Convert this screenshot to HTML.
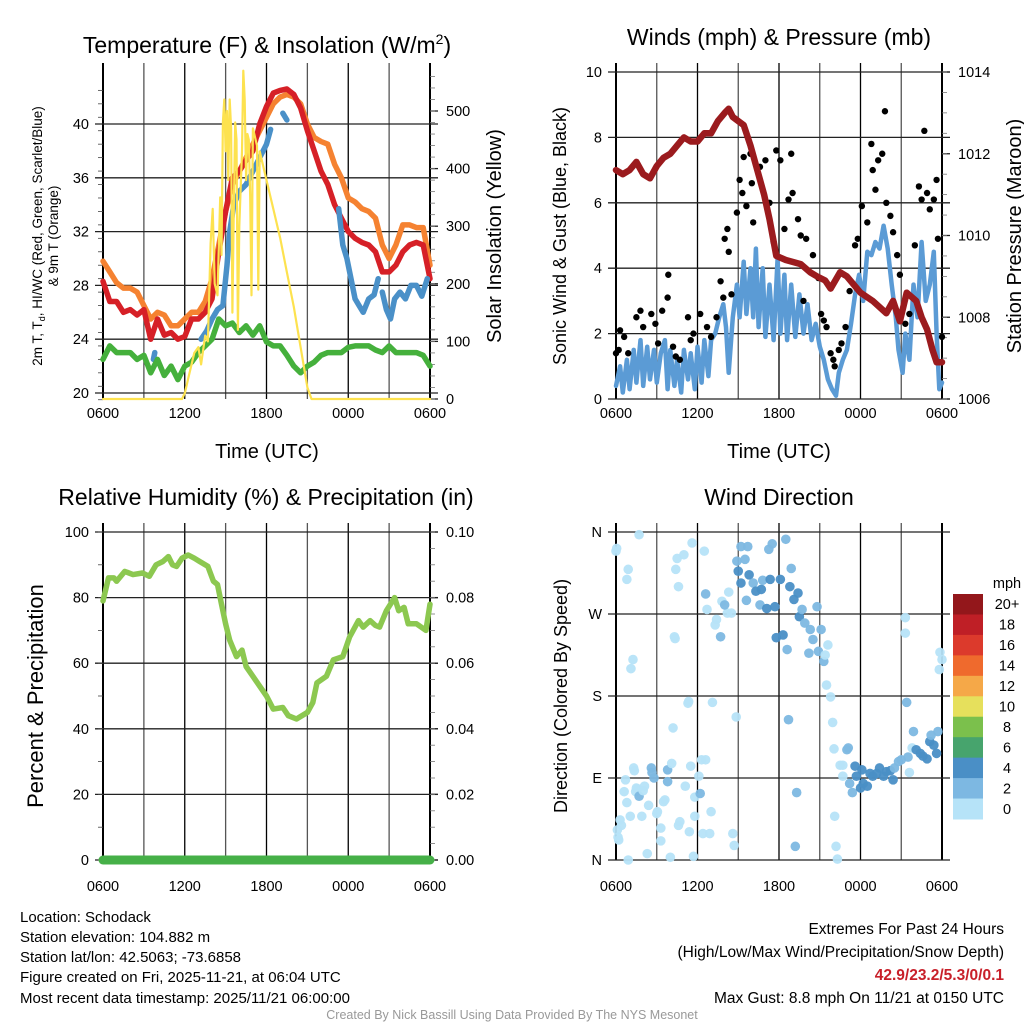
<!DOCTYPE html>
<html><head><meta charset="utf-8"><style>
html,body{margin:0;padding:0;background:#fff;}
svg{display:block;font-family:"Liberation Sans",Arial,sans-serif;}
</style></head><body>
<svg id="fig" width="1024" height="1024" viewBox="0 0 1024 1024">
<text x="267" y="53" font-size="23" text-anchor="middle">Temperature (F) &amp; Insolation (W/m<tspan font-size="14" dy="-9">2</tspan><tspan dy="9">)</tspan></text>
<text x="779" y="45" font-size="23" text-anchor="middle">Winds (mph) &amp; Pressure (mb)</text>
<text x="266" y="505" font-size="23" text-anchor="middle">Relative Humidity (%) &amp; Precipitation (in)</text>
<text x="779" y="505" font-size="23" text-anchor="middle">Wind Direction</text>

<text transform="translate(42,236) rotate(-90)" font-size="13.5" text-anchor="middle">2m T, T<tspan font-size="9" dy="3">d</tspan><tspan dy="-3">, HI/WC (Red, Green, Scarlet/Blue)</tspan></text>
<text transform="translate(58,236) rotate(-90)" font-size="13.5" text-anchor="middle">&amp; 9m T (Orange)</text>
<text transform="translate(501,236) rotate(-90)" font-size="20" text-anchor="middle">Solar Insolation (Yellow)</text>
<text x="267" y="458" font-size="20" text-anchor="middle">Time (UTC)</text>

<text transform="translate(566,236) rotate(-90)" font-size="18" text-anchor="middle">Sonic Wind &amp; Gust (Blue, Black)</text>
<text transform="translate(1021,236) rotate(-90)" font-size="20" text-anchor="middle">Station Pressure (Maroon)</text>
<text x="779" y="458" font-size="20" text-anchor="middle">Time (UTC)</text>

<text transform="translate(43,696) rotate(-90)" font-size="22" text-anchor="middle">Percent &amp; Precipitation</text>
<text transform="translate(567,696) rotate(-90)" font-size="18" text-anchor="middle">Direction (Colored By Speed)</text>

<g font-size="15">
<text x="20" y="922">Location: Schodack</text>
<text x="20" y="942">Station elevation: 104.882 m</text>
<text x="20" y="962">Station lat/lon: 42.5063; -73.6858</text>
<text x="20" y="982">Figure created on Fri, 2025-11-21, at 06:04 UTC</text>
<text x="20" y="1003">Most recent data timestamp: 2025/11/21 06:00:00</text>
</g>
<g font-size="15.5" text-anchor="end">
<text x="1004" y="934">Extremes For Past 24 Hours</text>
<text x="1004" y="957">(High/Low/Max Wind/Precipitation/Snow Depth)</text>
<text x="1004" y="980" fill="#c8202a" font-weight="bold">42.9/23.2/5.3/0/0.1</text>
<text x="1004" y="1003">Max Gust: 8.8 mph On 11/21 at 0150 UTC</text>
</g>
<text x="512" y="1019" font-size="12.5" fill="#999" text-anchor="middle">Created By Nick Bassill Using Data Provided By The NYS Mesonet</text>
<g id="plots"></g>
</svg>
<script>
// ---- data ----
const xTickLabels = ["0600","1200","1800","0000","0600"];
const tempTicks = [20,24,28,32,36,40];
const insolTicks = [0,100,200,300,400,500];
const windTicks = [0,2,4,6,8,10];
const presTicks = [1006,1008,1010,1012,1014];
const rhTicks = [0,20,40,60,80,100];
const precipTicks = ["0.00","0.02","0.04","0.06","0.08","0.10"];
const dirLabels = ["N","E","S","W","N"];
const speedBins = ["0","2","4","6","8","10","12","14","16","18","20+"];
const speedColors = ["#b6e3f8","#7db8e2","#4a8fc6","#47a46d","#7bc04c","#e6e05c","#f5a848","#ef6a2d","#dc3a2c","#bf1f26","#93171b"];

const redT = [[0,28.3],[0.5,26.8],[1,26.8],[1.5,26],[2,26.2],[2.5,25.8],[3,26.2],[3.5,24],[4,25.5],[4.5,24.3],[5,24.5],[5.5,24],[6,24.2],[6.5,25.5],[7,25.5],[7.5,26],[8,27],[8.5,30.5],[9,33.5],[9.5,36],[10,36.5],[10.5,37.3],[11,38],[11.5,40],[12,41.3],[12.5,42.3],[13,42.5],[13.5,42.6],[14,42.2],[14.5,41.2],[15,39.5],[15.5,38],[16,36.5],[16.5,35.5],[17,34],[17.5,33],[18,32],[18.5,31.5],[19,31.2],[19.5,31],[20,30.5],[20.5,29],[21,29],[21.5,29.5],[22,30.5],[22.5,31],[23,31.2],[23.5,31],[24,28.5]];
const orangeT = [[0,29.8],[0.5,29],[1,28.2],[1.5,27.8],[2,27.8],[2.5,27.5],[3,26.5],[3.5,25.5],[4,26],[4.5,25.8],[5,25],[5.5,25],[6,25.5],[6.5,26],[7,26],[7.5,26.8],[8,28.5],[8.5,31],[9,33.5],[9.5,35.5],[10,36.5],[10.5,37.5],[11,38.5],[11.5,39.5],[12,40.5],[12.5,41.5],[13,42],[13.5,42.2],[14,42],[14.5,41.5],[15,40],[15.5,39],[16,38.7],[16.5,38.5],[17,37],[17.5,36],[18,34.5],[18.5,34.2],[19,33.7],[19.5,33.5],[20,33],[20.5,31],[21,30],[21.5,31],[22,32.5],[22.5,32.5],[23,32.3],[23.5,32.3],[24,29.5]];
const greenTd = [[0,22.5],[0.5,23.5],[1,23],[1.5,23],[2,23],[2.5,22.5],[3,22.8],[3.5,21.5],[4,22.5],[4.5,21.3],[5,22],[5.5,21],[6,22],[6.5,22.3],[7,23],[7.5,23.5],[8,24],[8.5,25.5],[9,25],[9.5,25.2],[10,24.5],[10.5,25],[11,24.3],[11.5,25],[12,23.8],[12.5,23.5],[13,23.5],[13.5,22.8],[14,22],[14.5,21.5],[15,22],[15.5,22.3],[16,22.8],[16.5,23],[17,23],[17.5,23],[18,23.4],[18.5,23.5],[19,23.5],[19.5,23.5],[20,23.2],[20.5,23],[21,23.5],[21.5,23],[22,23],[22.5,23],[23,23],[23.5,22.8],[24,22]];
const blueHI = [
 [[3.7,22.5],[3.8,23]],
 [[7.2,24],[7.6,24.6],[8.0,25.5],[8.4,26.2],[8.8,26.5],[9.1,29.5],[9.3,32],[9.6,34],[10,35],[10.5,35.5],[11,36.5],[11.5,37.5],[12,38.5],[12.3,39.6]],
 [[13.2,40.8],[13.5,40.3]],
 [[17.3,33.7],[17.6,31],[17.9,30],[18.2,28.5],[18.5,27],[18.8,26.5],[19.1,26],[19.5,27],[19.9,27.3],[20.2,28.5]],
 [[20.5,27.5],[20.8,26.2],[21.1,25.5],[21.4,27],[21.8,27.5],[22.2,27],[22.6,28],[23,28],[23.4,27.2],[23.8,28.5]]
];
const insolation = [[0,0],[5.8,0],[6,10],[6.3,40],[6.7,80],[7,90],[7.2,60],[7.5,110],[7.7,100],[7.9,270],[8.05,330],[8.2,200],[8.4,180],[8.6,350],[8.7,250],[8.8,480],[8.9,520],[9.0,430],[9.1,500],[9.2,380],[9.3,520],[9.4,470],[9.5,150],[9.6,330],[9.7,480],[9.8,450],[9.9,120],[10.0,300],[10.2,430],[10.3,570],[10.4,520],[10.5,380],[10.6,460],[10.7,450],[10.8,350],[10.9,180],[11.0,470],[11.3,440],[11.4,190],[11.5,430],[12,380],[12.5,330],[13,280],[13.5,220],[14,160],[14.5,90],[15,20],[15.3,0],[24,0]];

const windSpeed = [[0,0.4],[0.3,1],[0.5,0.2],[0.8,1.2],[1,0.3],[1.3,1.5],[1.5,0.5],[1.8,1.8],[2,0.4],[2.3,1.6],[2.5,0.6],[2.8,1.5],[3,0.5],[3.3,1.4],[3.6,1.8],[3.8,0.3],[4,1.5],[4.3,0.4],[4.5,1.2],[4.8,0.2],[5,1.5],[5.3,0.6],[5.5,1.4],[5.8,0.3],[6,1.6],[6.3,0.5],[6.5,1.8],[6.8,0.7],[7,1.8],[7.3,2],[7.6,2.5],[7.9,2.9],[8.1,2.2],[8.3,0.8],[8.6,2.5],[8.9,3.5],[9.1,2.5],[9.4,4.2],[9.6,2.6],[9.9,4],[10.1,2.5],[10.3,4.6],[10.5,2.2],[10.8,4],[11,1.9],[11.3,3.5],[11.6,1.8],[11.9,4.3],[12.1,2],[12.4,3.8],[12.6,1.8],[12.9,3.5],[13.2,1.9],[13.5,3.2],[13.8,2],[14.1,2.9],[14.4,1.8],[14.7,2.3],[15,1.6],[15.3,1.2],[15.6,0.6],[15.9,0.3],[16.2,0.1],[16.4,0.8],[16.7,1.2],[17,1.5],[17.3,2.3],[17.6,3.2],[17.9,3.8],[18.2,3],[18.5,4.5],[18.8,4.4],[19.1,4.8],[19.4,4.6],[19.7,5.3],[20,4.6],[20.3,3.5],[20.6,2.5],[20.8,1.5],[21.1,0.8],[21.3,2],[21.6,1.2],[21.9,3.5],[22.2,2.5],[22.5,4.8],[22.8,3],[23.1,3.5],[23.4,4.5],[23.6,2],[23.8,0.3],[24,0.5]];
const gusts = [[0,1.4],[0.2,1.5],[0.3,2.1],[0.6,1.9],[0.9,1.4],[1.5,2.5],[1.8,2.7],[2.0,2.2],[2.6,2.6],[2.9,2.3],[3.1,1.7],[3.4,2.7],[3.8,3.1],[3.85,3.8],[4.2,1.6],[4.4,1.3],[4.7,1.2],[5.3,2.5],[5.5,1.8],[5.7,2.0],[6.2,2.6],[6.7,2.2],[7.0,1.9],[7.4,2.5],[7.7,3.6],[7.9,3.1],[8.0,4.9],[8.2,5.2],[8.3,4.5],[8.5,3.2],[8.9,5.7],[9.1,6.7],[9.3,6.3],[9.4,7.4],[9.6,5.9],[9.9,7.5],[10,6.6],[10.1,5.4],[10.6,7.1],[11,7.3],[11.3,6.0],[11.6,4.8],[11.8,7.6],[12.1,7.3],[12.4,5.2],[12.7,6.1],[12.9,7.5],[13,6.3],[13.4,5.5],[13.6,5.0],[13.8,3.0],[14.0,4.9],[14.5,4.4],[14.9,3.7],[15.1,2.6],[15.3,2.4],[15.5,2.2],[15.8,1.4],[16.0,1.2],[16.1,1.0],[16.4,1.5],[16.6,1.7],[16.9,2.2],[17.2,3.3],[17.6,4.7],[17.8,4.9],[18.1,5.9],[18.5,5.4],[18.8,7.8],[18.9,7.0],[19.1,6.4],[19.3,7.3],[19.6,7.5],[19.8,8.8],[19.9,6.0],[20.2,5.6],[20.4,5.1],[20.7,4.4],[20.9,3.8],[21.3,2.3],[21.6,2.6],[22.0,4.7],[22.3,6.5],[22.5,6.1],[22.7,8.2],[22.9,6.3],[23.1,5.8],[23.4,6.1],[23.6,6.7],[23.7,4.9],[24,1.9]];
const pressure = [[0,1011.6],[0.5,1011.5],[1,1011.6],[1.5,1011.8],[2,1011.5],[2.5,1011.4],[3,1011.7],[3.5,1011.9],[4,1012.0],[4.5,1012.2],[5,1012.4],[5.5,1012.3],[6,1012.3],[6.5,1012.5],[7,1012.5],[7.5,1012.8],[8,1013.0],[8.3,1013.1],[8.6,1012.9],[9,1012.8],[9.4,1012.7],[9.9,1012.2],[10.4,1011.6],[10.9,1011.0],[11.3,1010.4],[11.8,1009.5],[12.5,1009.4],[13.6,1009.3],[14.3,1009.1],[14.8,1009.0],[15.4,1008.9],[15.8,1008.7],[16.5,1009.1],[17,1009.0],[17.5,1008.8],[18,1008.6],[18.9,1008.4],[19.9,1008.1],[20.4,1008.4],[20.9,1007.9],[21.4,1008.6],[22.1,1008.4],[22.5,1008.0],[22.9,1007.7],[23.3,1007.2],[23.6,1006.9],[24,1006.9]];

const rh = [[0,79],[0.4,86],[0.8,86],[1,85],[1.6,88],[2.2,87],[2.9,87.5],[3.4,86.5],[3.9,90],[4.4,91],[4.8,92.5],[5.1,90],[5.4,89.5],[5.8,92],[6.25,93],[6.7,92],[7.1,91],[7.7,89.5],[8.1,85],[8.4,84],[8.7,78],[9.0,72],[9.3,67],[9.8,62],[10.2,64],[10.5,59],[11,56],[11.5,53],[12,50],[12.5,46],[13.2,46.5],[13.6,44],[14.2,43],[15,45],[15.4,48],[15.7,54],[16.4,56],[16.9,61],[17.6,62],[18.1,68],[18.75,73],[19.1,71],[19.6,73],[20.0,71.5],[20.3,71],[20.8,76],[21.1,78],[21.4,80],[21.7,76],[22.1,77],[22.4,72],[23,72],[23.7,70],[24,78]];
const precip = [[0,0],[24,0]];

// direction points: [hour, degrees (0=N bottom), speed mph]
const dirPts = [[0,339,1],[0.05,342,1],[0.9,319,1],[0.8,308,1],[1.7,357,1],[1.25,220,1],[1.1,210,1],[0.7,88,1],[0.6,75,1],[0.8,63,1],[1.05,48,1],[0.3,44,1],[0.4,38,1],[0.1,33,1],[0.2,22,1],[0.15,25,1],[0.9,0,1],[1.3,101,1],[1.35,98,1],[1.5,79,1],[1.45,75,1],[1.6,78,1],[1.7,70,3],[1.9,48,1],[2.1,81,1],[2.0,76,1],[2.4,60,1],[2.3,7,1],[2.6,101,3],[2.65,96,3],[2.8,90,3],[3.0,51,1],[3.05,53,1],[3.3,35,1],[3.3,21,1],[3.6,66,1],[3.5,64,1],[3.8,99,3],[3.8,86,3],[4.0,3,1],[4.1,106,1],[4.2,145,1],[4.3,245,1],[4.35,243,1],[4.4,319,1],[4.6,300,1],[4.5,331,1],[5.0,335,1],[4.7,42,1],[4.6,38,1],[5.1,81,1],[5.4,31,1],[5.5,103,1],[5.6,348,1],[5.8,69,1],[5.8,48,1],[5.3,172,1],[5.35,174,1],[5.7,4,1],[6.2,73,3],[6.3,110,1],[6.1,92,1],[6.4,29,1],[6.5,339,1],[6.6,292,3],[6.7,275,1],[6.9,29,1],[7.0,53,1],[7.1,173,1],[6.6,110,1],[7.4,264,1],[7.3,258,1],[7.7,245,3],[7.8,284,1],[8.2,271,1],[8.5,271,1],[8.0,280,2],[8.3,294,1],[8.6,29,1],[8.7,16,1],[8.85,157,1],[8.9,328,3],[9.0,317,4],[9.2,304,4],[9.2,344,2],[9.5,330,2],[9.6,285,3],[9.7,344,2],[9.8,313,4],[10.1,304,3],[10.3,295,4],[10.6,280,3],[10.7,297,4],[10.8,307,2],[11.1,276,4],[11.25,341,2],[11.35,308,4],[11.5,347,2],[11.7,278,4],[11.8,244,4],[12.1,308,4],[12.3,247,4],[12.5,352,2],[12.6,231,3],[12.7,154,3],[12.8,300,4],[12.9,320,2],[13.1,286,4],[13.3,74,2],[13.2,15,3],[13.4,293,4],[13.5,267,4],[13.7,275,2],[13.9,260,2],[14.2,227,3],[14.3,253,3],[14.5,242,2],[14.8,278,3],[14.9,229,3],[15.1,253,2],[15.3,218,2],[15.4,225,1],[15.6,236,1],[15.5,192,1],[15.8,179,1],[15.95,151,1],[16.05,122,1],[16.1,48,1],[16.2,15,1],[16.3,1,1],[16.5,104,1],[16.7,104,1],[17.0,121,2],[17.1,123,2],[16.7,92,1],[17.2,84,3],[17.4,74,3],[17.6,103,4],[17.7,92,4],[18.0,79,4],[18.1,99,4],[18.2,84,4],[18.5,81,4],[18.7,95,4],[18.9,92,4],[19.2,95,4],[19.4,101,4],[19.7,92,4],[19.9,97,4],[20.2,98,4],[20.4,88,4],[20.5,101,3],[20.8,108,3],[21.0,110,3],[21.3,266,1],[21.3,249,1],[21.4,173,3],[21.5,113,3],[21.6,96,1],[21.8,123,1],[21.9,141,3],[22.1,121,4],[22.4,117,4],[22.6,114,4],[22.9,111,4],[23.1,130,4],[23.2,137,3],[23.4,126,4],[23.6,117,4],[23.7,141,2],[23.85,228,1],[24,220,1],[23.8,209,1]];

// ---- drawing ----
const NS = "http://www.w3.org/2000/svg";
const root = document.getElementById("plots");
function el(tag, attrs, parent){
  const e = document.createElementNS(NS, tag);
  for (const k in attrs) e.setAttribute(k, attrs[k]);
  (parent||root).appendChild(e);
  return e;
}
function makeScale(d0,d1,r0,r1){ return v => r0 + (v-d0)/(d1-d0)*(r1-r0); }

function frame(p, leftTicks, leftLab, rightTicks, rightLab, leftMinor, rightMinor, xlabY, name){
  const g = el("g",{});
  
  
  for (let h=0; h<=24; h+=3){
    const x = p.x(h);
    const l = el("line",{x1:x,x2:x,y1:p.top-9,y2:p.bot,stroke:(h%6==0)?"#000":"#555","stroke-width":(h==0||h==24)?2:1.3},g);
    
    
  }
  leftTicks.forEach((v,i)=>{
    const y = p.yl(v);
    const l = el("line",{x1:p.left-8,x2:p.right+8,y1:y,y2:y,stroke:"#222","stroke-width":1.3},g);
    
    
    const t = el("text",{x:p.left-14,y:y+5,"font-size":14.5,"text-anchor":"end"},g);
    t.textContent = leftLab[i];
    
    
  });
  leftMinor.forEach(v=>{ const y=p.yl(v); el("line",{x1:p.left-5,x2:p.left,y1:y,y2:y,stroke:"#444","stroke-width":0.8},g); });
  rightTicks.forEach((v,i)=>{
    const y = p.yr(v);
    el("line",{x1:p.right,x2:p.right+8,y1:y,y2:y,stroke:"#222","stroke-width":1.3},g);
    if (rightLab){
      const t = el("text",{x:p.right+16,y:y+5,"font-size":14.5},g);
      t.textContent = rightLab[i];
      
      
    }
  });
  rightMinor.forEach(v=>{ const y=p.yr(v); el("line",{x1:p.right,x2:p.right+5,y1:y,y2:y,stroke:"#777","stroke-width":0.8},g); });
  xTickLabels.forEach((s,i)=>{
    const t = el("text",{x:p.x(i*6),y:xlabY,"font-size":14.5,"text-anchor":"middle"},g);
    t.textContent = s;
    
    
  });
  return g;
}
function line(pts, xs, ys, color, w, name){
  const d = pts.map((p,i)=>(i?"L":"M")+xs(p[0]).toFixed(1)+" "+ys(p[1]).toFixed(1)).join(" ");
  const pa = el("path",{d:d,fill:"none",stroke:color,"stroke-width":w,"stroke-linejoin":"round","stroke-linecap":"round"});
  
  
  return pa;
}
function range(a,b,s){ const r=[]; for(let v=a; v<=b+1e-9; v+=s) r.push(+v.toFixed(4)); return r; }

// Panel 1: temperature
const P1 = {left:103,right:430,top:72,bot:399};
P1.x = makeScale(0,24,P1.left,P1.right);
P1.yl = makeScale(20,40,393,124);
P1.yr = makeScale(0,500,399,111);
frame(P1, tempTicks, tempTicks.map(String), insolTicks, insolTicks.map(String), range(19.5,43,1), range(0,560,20), 418, "temperature");
line(orangeT, P1.x, P1.yl, "#f58231", 5.5, "nine-meter-temp-line");
line(redT, P1.x, P1.yl, "#d62027", 5.5, "two-meter-temp-line");
blueHI.forEach(seg=>line(seg, P1.x, P1.yl, "#4a90c8", 5.5, "heat-index-windchill-line"));
line(greenTd, P1.x, P1.yl, "#45b03c", 5.5, "dewpoint-line");
line(insolation, P1.x, P1.yr, "#fde24f", 2.2, "solar-insolation-line");

// Panel 2: wind
const P2 = {left:616,right:942,top:72,bot:399};
P2.x = makeScale(0,24,P2.left,P2.right);
P2.yl = makeScale(0,10,399,72);
P2.yr = makeScale(1006,1014,399,72);
frame(P2, windTicks, windTicks.map(String), presTicks, presTicks.map(String), [], range(1006,1014,0.5), 418, "wind");
line(windSpeed, P2.x, P2.yl, "#5b9bd5", 4.5, "sonic-wind-line");
gusts.forEach(g=>{
  const c = el("circle",{cx:P2.x(g[0]),cy:P2.yl(g[1]),r:3.2,fill:"#000"});
  
  
});
line(pressure, P2.x, P2.yr, "#9b1b1e", 6.5, "station-pressure-line");

// Panel 3: RH
const P3 = {left:103,right:430,top:532,bot:860};
P3.x = makeScale(0,24,P3.left,P3.right);
P3.yl = makeScale(0,100,860,532);
P3.yr = makeScale(0,0.1,860,532);
frame(P3, rhTicks, rhTicks.map(String), precipTicks.map(Number), precipTicks, range(0,100,10), range(0,0.1,0.005), 891, "humidity");
line(rh, P3.x, P3.yl, "#8cc850", 5.5, "relative-humidity-line");
line(precip, P3.x, P3.yr, "#46b048", 9, "precipitation-line");

// Panel 4: wind direction
const P4 = {left:616,right:942,top:532,bot:860};
P4.x = makeScale(0,24,P4.left,P4.right);
P4.yl = makeScale(0,360,860,532);
P4.yr = P4.yl;
frame(P4, [0,90,180,270,360], dirLabels, [], null, [], [], 891, "direction");
dirPts.forEach(d=>{
  const bin = Math.min(10, Math.floor(d[2]/2));
  const c = el("circle",{cx:P4.x(d[0]),cy:P4.yl(d[1]),r:4.8,fill:speedColors[bin],"fill-opacity":0.95});
  
  
});
// colorbar
const cb = el("g",{});


const cbTop=594, cbH=225/11;
const mt = el("text",{x:1007,y:588,"font-size":14.5,"text-anchor":"middle"},cb);
mt.textContent="mph";
speedBins.forEach((s,i)=>{
  const k = 10-i;
  const y = cbTop + i*cbH;
  const r = el("rect",{x:953,y:y,width:30,height:cbH+0.5,fill:speedColors[k]},cb);
  
  
  const t = el("text",{x:1007,y:y+cbH/2+5,"font-size":14.5,"text-anchor":"middle"},cb);
  t.textContent = speedBins[k];
  
  
});
</script>
</body></html>
